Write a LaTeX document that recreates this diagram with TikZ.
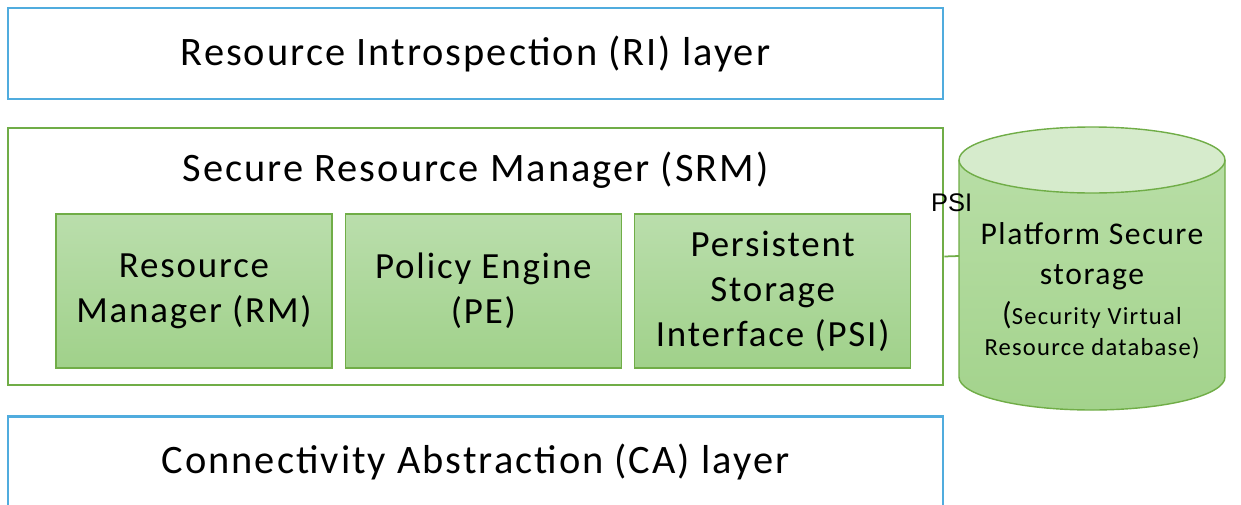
\documentclass[tikz,border=0pt]{standalone}
\usepackage{fontspec}
\setmainfont{Carlito}[LetterSpace=5]
\newfontfamily\arialfont{Liberation Sans}
\usepackage{xcolor}
\usetikzlibrary{positioning}

\definecolor{layerblue}{RGB}{80,172,222}
\definecolor{srmgreen}{RGB}{112,173,71}
\definecolor{boxtop}{RGB}{186,222,172}
\definecolor{boxbot}{RGB}{160,209,138}
\definecolor{captop}{RGB}{214,235,204}
\definecolor{cantop}{RGB}{184,222,166}
\definecolor{canbot}{RGB}{163,211,140}

\begin{document}
\begin{tikzpicture}[x=0.02cm, y=-0.02cm, node distance=0.24cm,
    layer/.style={rectangle,draw=layerblue,line width=1.6pt,minimum width=18.7cm,minimum height=1.82cm,font=\fontsize{23}{28}\selectfont},
    module/.style={rectangle,draw=srmgreen,line width=0.8pt,top color=boxtop,bottom color=boxbot,minimum width=5.52cm,minimum height=3.08cm,align=center,font=\fontsize{21}{25.6}\selectfont}]
    \useasboundingbox (0,0) rectangle (1241,504);

    \node[layer] (ri) at (475.5,53.5) {Resource Introspection (RI) layer};
    \node[rectangle,draw=srmgreen,line width=1.6pt,minimum width=18.7cm,minimum height=5.14cm] (srm) at (475.5,256.5) {};
    \node[font=\fontsize{23}{28}\selectfont] (srmtitle) at (475.5,170) {Secure Resource Manager (SRM)};
    \node[layer] (ca) at (475.5,462) {Connectivity Abstraction (CA) layer};

    \node[module] (rm) at (194,291) {Resource\\Manager (RM)};
    \node[module] (pe) [right=of rm] {Policy Engine\\(PE)};
    \node[module] (psi) [right=of pe] {Persistent\\Storage\\Interface (PSI)};

    % storage cylinder
    \shade[top color=cantop,bottom color=canbot] (959,160) -- (959,377) arc[start angle=180,end angle=0,x radius=133,y radius=33] -- (1225,160) -- cycle;
    \draw[srmgreen,line width=0.8pt] (959,160) -- (959,377) arc[start angle=180,end angle=0,x radius=133,y radius=33] -- (1225,160);
    \filldraw[fill=captop,draw=srmgreen,line width=0.8pt] (1092,160) ellipse[x radius=133,y radius=33];
    \coordinate (pssw) at (959,256);
    \node[align=center,font=\fontsize{18}{22.7}\selectfont] (pss) at (1092,256) {Platform Secure\\storage};
    \node[align=center,font=\fontsize{14}{17.6}\selectfont] (pssdb) at (1092,330) {{\fontsize{18}{17.6}\selectfont(}Security Virtual\\Resource database)};

    \draw[srmgreen,line width=1pt] (srm.east) -- (pssw) node[midway, above=0.75cm, black, font=\arialfont\fontsize{14.5}{17}\selectfont] (psilbl) {PSI};
\end{tikzpicture}
\end{document}
